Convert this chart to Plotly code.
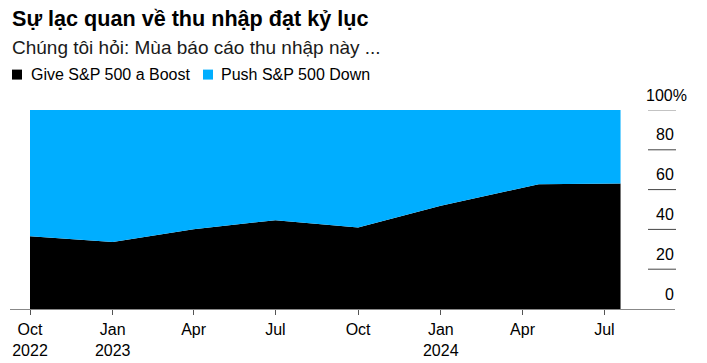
import plotly.graph_objects as go

# ---- data ----
survey_dates = ["2022-10-01", "2023-01-01", "2023-04-01", "2023-07-01",
                "2023-10-01", "2024-01-01", "2024-04-19", "2024-07-19"]
give_boost = [36.6, 33.7, 40.1, 44.6, 41.0, 51.9, 62.7, 63.1]
push_down = [round(100 - v, 1) for v in give_boost]

tick_dates = ["2022-10-01", "2023-01-01", "2023-04-01", "2023-07-01",
              "2023-10-01", "2024-01-01", "2024-04-01", "2024-07-01"]
tick_text = ["Oct<br>2022", "Jan<br>2023", "Apr", "Jul", "Oct", "Jan<br>2024", "Apr", "Jul"]
y_ticks = [0, 20, 40, 60, 80, 100]
y_labels = ["0", "20", "40", "60", "80", "100%"]

title = "Sự lạc quan về thu nhập đạt kỷ lục"
subtitle = "Chúng tôi hỏi: Mùa báo cáo thu nhập này ..."
series_names = ["Give S&P 500 a Boost", "Push S&P 500 Down"]
colors = ["#000000", "#00aeff"]

W, H = 707, 363
ML, MR, MT, MB = 10, 32, 109.5, 54
PW = W - ML - MR
PH = H - MT - MB

def px_x(x):
    return (x - ML) / PW

def px_y(y):
    return (H - MB - y) / PH

FONT = "Liberation Sans, Arial, Helvetica, sans-serif"

fig = go.Figure()
fig.add_trace(go.Scatter(x=survey_dates, y=give_boost, stackgroup="one",
                         mode="none", fillcolor=colors[0], name=series_names[0],
                         showlegend=False, hoverinfo="x+y"))
fig.add_trace(go.Scatter(x=survey_dates, y=push_down, stackgroup="one",
                         mode="none", fillcolor=colors[1], name=series_names[1],
                         showlegend=False, hoverinfo="x+y"))

shapes = []
annotations = []

# y tick dashes and labels (right side, labels above dash)
for v, lab in zip(y_ticks, y_labels):
    if v > 0:
        shapes.append(dict(type="line", xref="paper", yref="y",
                           x0=px_x(648), x1=px_x(676), y0=v, y1=v,
                           line=dict(color="#888888" if v == 100 else "#444444", width=1)))
    xr = 689 if lab.endswith("%") else 676
    annotations.append(dict(xref="paper", yref="y", x=px_x(xr), y=v, yshift=15,
                            text=lab, showarrow=False, xanchor="right", yanchor="middle",
                            font=dict(family=FONT, size=16, color="#000000")))

# title / subtitle
annotations.append(dict(xref="paper", yref="paper", x=px_x(10), y=px_y(18),
                        text="<b>" + title + "</b>", showarrow=False,
                        xanchor="left", yanchor="middle",
                        font=dict(family=FONT, size=21.6, color="#000000")))
annotations.append(dict(xref="paper", yref="paper", x=px_x(10), y=px_y(47),
                        text=subtitle, showarrow=False,
                        xanchor="left", yanchor="middle",
                        font=dict(family=FONT, size=19, color="#1a1a1a")))

# legend (squares + labels)
legend_items = [(12, 29), (203, 219)]
for (sx, tx), name, col in zip(legend_items, series_names, colors):
    shapes.append(dict(type="rect", xref="paper", yref="paper",
                       x0=px_x(sx), x1=px_x(sx + 10), y0=px_y(79), y1=px_y(69),
                       fillcolor=col, line=dict(width=0)))
    annotations.append(dict(xref="paper", yref="paper", x=px_x(tx), y=px_y(74),
                            text=name, showarrow=False, xanchor="left", yanchor="middle",
                            font=dict(family=FONT, size=16, color="#000000")))

fig.update_layout(
    width=W, height=H,
    margin=dict(l=ML, r=MR, t=MT, b=MB, pad=0, autoexpand=False),
    paper_bgcolor="white", plot_bgcolor="white",
    showlegend=False,
    shapes=shapes, annotations=annotations,
    xaxis=dict(type="date", range=["2022-09-08 18:00", "2024-09-17 14:00"],
               tickvals=tick_dates, ticktext=tick_text,
               showgrid=False, zeroline=False, automargin=False,
               showline=True, linecolor="#888888", linewidth=1,
               ticks="outside", ticklen=5, tickcolor="#555555", tickwidth=1,
               ticklabelstandoff=1,
               tickfont=dict(family=FONT, size=16, color="#000000")),
    yaxis=dict(range=[0, 100], showgrid=False, zeroline=False, showline=False,
               showticklabels=False, ticks="", automargin=False),
)

fig.write_html("out.html", post_script="document.body.style.margin='0';",
               config={"displayModeBar": False})
